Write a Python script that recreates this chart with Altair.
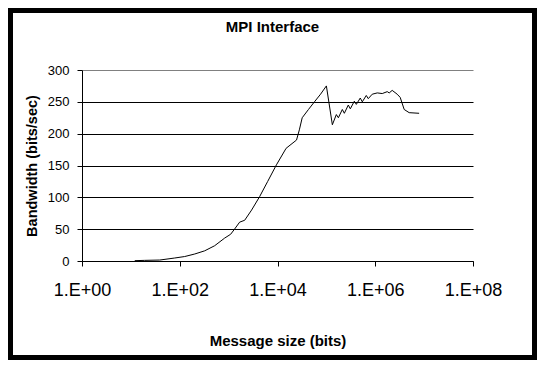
import altair as alt
import pandas as pd

sizes = [12, 19, 39, 79, 126, 203, 324, 518, 830, 1100, 1320, 1680, 2130, 2950,
         4300, 6300, 9500, 15000, 24500, 28000, 32000, 43000, 57000, 76000,
         100000, 132500, 160000, 176000, 212000, 233000, 281000, 309000, 373000,
         410000, 494000, 543000, 655000, 720000, 868000, 1100000, 1390000,
         1760000, 1930000, 2220000, 2810000, 3240000, 3910000, 4940000, 7900000]
bandwidth = [0.5, 1, 1.5, 4.7, 7, 11, 16, 24, 36, 42, 50, 61, 64, 80, 101, 125,
             151, 177, 190, 206, 225, 238, 250, 262, 275, 214, 230, 225, 238, 232,
             245, 239, 251, 246, 256, 250, 260, 255, 262, 264, 263, 266, 264, 268,
             262, 257, 238, 233, 232]

x_ticks = [1, 100, 10000, 1000000, 100000000]
y_ticks = [0, 50, 100, 150, 200, 250, 300]

df = pd.DataFrame({"size": sizes, "bw": bandwidth})

FONT = "Liberation Sans"
W, H = 391, 191
PL, PT, PR, PB = 74, 62, 64, 99

frame = alt.Chart(alt.Data(values=[{}])).mark_rect(color="white").encode(
    x=alt.value(-PL + 5), x2=alt.value(W + PR - 5),
    y=alt.value(-PT + 5), y2=alt.value(H + PB - 5),
)

line = alt.Chart(df).mark_line(color="black", strokeWidth=1).encode(
    x=alt.X("size:Q",
            scale=alt.Scale(type="log", domain=[1, 1e8], nice=False),
            axis=alt.Axis(values=x_ticks, title="Message size (bits)",
                          labelExpr="'1.E+' + (round(log(datum.value)/LN10) < 10 ? '0' : '') + round(log(datum.value)/LN10)",
                          labelFontSize=18, labelFont=FONT, labelColor="black",
                          labelPadding=15, labelFlush=False, labelOverlap=False,
                          tickSize=5, tickColor="black", domainColor="black",
                          grid=False, titleFont=FONT, titleFontSize=15,
                          titleFontWeight="bold", titleColor="black",
                          titlePadding=34, zindex=1)),
    y=alt.Y("bw:Q",
            scale=alt.Scale(domain=[0, 300], nice=False),
            axis=alt.Axis(values=y_ticks, title="Bandwidth (bits/sec)",
                          labelFontSize=13, labelFont=FONT, labelColor="black",
                          labelPadding=8, tickSize=5, tickColor="black",
                          domainColor="black",
                          gridColor={"condition": {"test": "datum.value === 300", "value": "#808080"}, "value": "#000000"},
                          gridOpacity=1, titleFont=FONT, titleFontSize=14.5,
                          titleFontWeight="bold", titleColor="black",
                          titlePadding=8, zindex=1)),
)

chart = alt.layer(frame, line).properties(
    width=W, height=H,
    background="black",
    padding={"left": PL, "top": PT, "right": PR, "bottom": PB},
    autosize=alt.AutoSizeParams(type="none"),
    title=alt.TitleParams("MPI Interface", font=FONT, fontSize=15,
                          fontWeight="bold", color="black", anchor="middle",
                          frame="group", dx=-5, dy=26, zindex=1),
).configure_view(stroke="#808080", fill="white")

chart.save("out.html", embed_options={"renderer": "svg", "actions": False})
